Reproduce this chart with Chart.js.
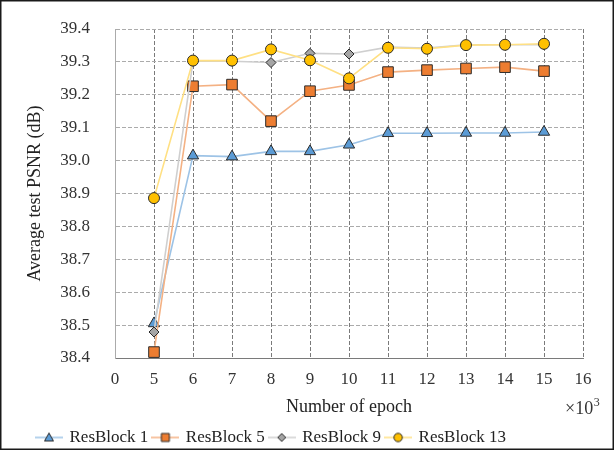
<!DOCTYPE html>
<html>
<head>
<meta charset="utf-8">
<script src="https://cdn.jsdelivr.net/npm/chart.js@4/dist/chart.umd.min.js"></script>
<style>
	html, body { margin: 0; padding: 0; background: #fff; }
	#wrap { width: 614px; height: 450px; }
</style>
</head>
<body>
<div id="wrap"><canvas id="psnrChart" width="614" height="450"></canvas></div>
<script>
// data (x in thousands of epochs)
const epochLabels = ["0", "5", "6", "7", "8", "9", "10", "11", "12", "13", "14", "15", "16"];
const resBlock1 = [null, 38.505, 39.015, 39.012, 39.028, 39.028, 39.048, 39.083, 39.083, 39.084, 39.084, 39.087, null];
const resBlock5 = [null, 38.418, 39.226, 39.231, 39.12, 39.211, 39.23, 39.269, 39.275, 39.28, 39.284, 39.272, null];
const resBlock9 = [null, 38.479, 39.302, 39.302, 39.298, 39.326, 39.324, 39.345, 39.342, 39.352, 39.352, 39.352, null];
const resBlock13 = [null, 38.886, 39.304, 39.304, 39.338, 39.305, 39.25, 39.343, 39.34, 39.351, 39.352, 39.355, null];
const yTicks = [38.4, 38.5, 38.6, 38.7, 38.8, 38.9, 39.0, 39.1, 39.2, 39.3, 39.4];

const FONT = "'Liberation Serif', 'Times New Roman', serif";
const MARKER_EDGE = "#2b2b2b";

// small line + marker icon for the legend
const makeLegendIcon = (lineColor, fill, shape) => {
	const c = document.createElement("canvas");
	c.width = 28;
	c.height = 14;
	const ctx = c.getContext("2d");
	ctx.strokeStyle = lineColor;
	ctx.lineWidth = 1.5;
	ctx.beginPath();
	ctx.moveTo(0, 7);
	ctx.lineTo(28, 7);
	ctx.stroke();
	ctx.fillStyle = fill;
	ctx.strokeStyle = MARKER_EDGE;
	ctx.lineWidth = 1;
	ctx.beginPath();
	if (shape === "triangle") {
		ctx.moveTo(14, 2.5);
		ctx.lineTo(18.5, 10.5);
		ctx.lineTo(9.5, 10.5);
		ctx.closePath();
	} else if (shape === "rect") {
		ctx.rect(10, 3, 8, 8);
	} else if (shape === "rectRot") {
		ctx.moveTo(14, 3);
		ctx.lineTo(18, 7);
		ctx.lineTo(14, 11);
		ctx.lineTo(10, 7);
		ctx.closePath();
	} else {
		ctx.arc(14, 7, 4.2, 0, Math.PI * 2);
	}
	ctx.fill();
	ctx.stroke();
	return c;
};

const series = [
	{ label: "ResBlock 1", data: resBlock1, line: "#9dc3e6", fill: "#5b9bd5", shape: "triangle", radius: 6.5, order: 3 },
	{ label: "ResBlock 5", data: resBlock5, line: "#f4b183", fill: "#ed7d31", shape: "rect", radius: 7.5, order: 2 },
	{ label: "ResBlock 9", data: resBlock9, line: "#cfcfcf", fill: "#a5a5a5", shape: "rectRot", radius: 5, order: 1 },
	{ label: "ResBlock 13", data: resBlock13, line: "#ffe083", fill: "#ffc000", shape: "circle", radius: 5.5, order: 0 },
];

const legendIcons = series.map((s) => makeLegendIcon(s.line, s.fill, s.shape));

const outerFrame = {
	id: "outerFrame",
	afterDraw(chart) {
		const { ctx, chartArea } = chart;
		ctx.save();
		ctx.strokeStyle = "#1a1a1a";
		ctx.lineWidth = 1.5;
		ctx.strokeRect(0.75, 0.75, chart.width - 1.5, chart.height - 1.5);

		// "x10^3" multiplier under the right end of the x axis
		ctx.fillStyle = "#333";
		ctx.textBaseline = "alphabetic";
		ctx.textAlign = "left";
		ctx.font = "18px " + FONT;
		const x0 = chartArea.right - 18;
		const base = chartArea.bottom + 56;
		ctx.fillText("\u00d710", x0, base);
		const w = ctx.measureText("\u00d710").width;
		ctx.font = "12px " + FONT;
		ctx.fillText("3", x0 + w + 0.5, base - 8);
		ctx.restore();
	},
};

new Chart(document.getElementById("psnrChart"), {
	type: "line",
	data: {
		labels: epochLabels,
		datasets: series.map((s) => ({
			label: s.label,
			data: s.data,
			order: s.order,
			borderColor: s.line,
			borderWidth: 1.6,
			backgroundColor: s.fill,
			pointStyle: s.shape,
			pointRadius: s.radius,
			pointBackgroundColor: s.fill,
			pointBorderColor: MARKER_EDGE,
			pointBorderWidth: 1,
			tension: 0,
			fill: false,
		})),
	},
	plugins: [outerFrame],
	options: {
		responsive: false,
		animation: false,
		layout: { padding: { left: 32, right: 31, top: 29, bottom: -6 } },
		plugins: {
			tooltip: { enabled: false },
			legend: {
				position: "bottom",
				align: "start",
				labels: {
					usePointStyle: true,
					pointStyleWidth: 24,
					padding: 5,
					color: "#222",
					font: { family: FONT, size: 17 },
					sort: (a, b) => a.datasetIndex - b.datasetIndex,
					generateLabels: (chart) =>
						Chart.defaults.plugins.legend.labels.generateLabels(chart).map((item) => ({
							...item,
							pointStyle: legendIcons[item.datasetIndex],
						})),
				},
			},
		},
		scales: {
			x: {
				type: "category",
				offset: false,
				grid: { color: "#7a7a7a", lineWidth: 1, drawTicks: false },
				border: { display: true, color: "#7a7a7a", width: 1, dash: [4, 2] },
				ticks: {
					padding: 11,
					color: "#333",
					autoSkip: false,
					maxRotation: 0,
					font: { family: FONT, size: 17 },
				},
				title: {
					display: true,
					text: "Number of epoch",
					color: "#222",
					font: { family: FONT, size: 18 },
					padding: { top: 0, bottom: 6 },
				},
				afterFit: (scale) => {
					scale.height = 66;
				},
			},
			y: {
				min: 38.4,
				max: 39.4,
				afterBuildTicks: (scale) => {
					scale.ticks = yTicks.map((v) => ({ value: v }));
				},
				grid: { color: "#ababab", lineWidth: 1, drawTicks: true, tickLength: 20, tickColor: "rgba(0,0,0,0)" },
				border: { display: true, color: "#ababab", width: 1, dash: [4, 2] },
				ticks: {
					padding: 5,
					color: "#333",
					font: { family: FONT, size: 17 },
					callback: (v) => Number(v).toFixed(1),
				},
				title: {
					display: true,
					text: "Average test PSNR (dB)",
					color: "#222",
					font: { family: FONT, size: 18 },
					padding: { top: -8, bottom: 0 },
				},
				afterFit: (scale) => {
					scale.width = 83;
				},
			},
		},
	},
});
</script>
</body>
</html>
